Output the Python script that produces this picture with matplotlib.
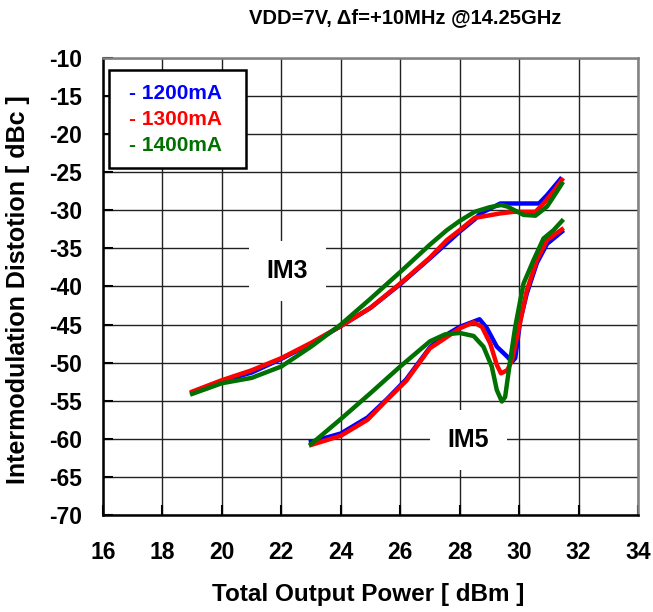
import matplotlib
matplotlib.use("Agg")
import matplotlib.pyplot as plt
from matplotlib.patches import Rectangle

plt.rcParams['font.family'] = ['Liberation Sans', 'DejaVu Sans']
plt.rcParams['font.weight'] = 'bold'
plt.rcParams['axes.unicode_minus'] = False

# ---- data ----
im3_1200_x = [19, 20, 21, 22, 23, 24, 25, 26, 27, 28, 28.5, 28.7, 29.37, 30.0, 30.67, 30.94, 31.39]
im3_1200_y = [-53.9, -52.4, -51.3, -49.5, -47.5, -45.2, -42.8, -39.7, -36.3, -32.8, -31.2, -30.4, -29.1, -29.1, -29.1, -28.0, -25.9]
im3_1300_x = [19, 20, 21, 22, 23, 24, 25, 26, 27, 27.57, 28, 28.5, 29.37, 29.8, 30.55, 30.82, 31.16, 31.44]
im3_1300_y = [-53.8, -52.3, -51.0, -49.4, -47.4, -45.2, -42.8, -39.6, -36.2, -33.9, -32.6, -31.0, -30.4, -30.2, -30.2, -29.1, -27.5, -26.0]
im3_1400_x = [19, 20, 21, 22, 23, 24, 25, 26, 27, 27.57, 28, 28.5, 29.0, 29.4, 29.6, 30.15, 30.55, 30.94, 31.16, 31.44]
im3_1400_y = [-54.1, -52.7, -52.0, -50.5, -47.9, -45.0, -41.6, -38.1, -34.5, -32.6, -31.4, -30.2, -29.6, -29.3, -29.5, -30.6, -30.7, -29.5, -28.2, -26.5]

im5_1200_x = [23.0, 24.0, 24.9, 25.55, 26.2, 27.0, 27.35, 28.0, 28.47, 28.67, 28.92, 29.25, 29.6, 29.76, 29.87, 30.04, 30.26, 30.6, 30.94, 31.44]
im5_1200_y = [-60.4, -59.3, -57.2, -54.8, -52.2, -48.0, -46.8, -45.3, -44.6, -44.3, -45.5, -47.9, -49.2, -49.9, -49.4, -44.4, -40.9, -36.9, -34.4, -32.8]
im5_1300_x = [23.0, 24.0, 24.9, 25.55, 26.2, 27.0, 27.35, 28.0, 28.47, 28.75, 29.03, 29.25, 29.39, 29.6, 29.76, 30.05, 30.26, 30.6, 30.94, 31.44]
im5_1300_y = [-60.8, -59.6, -57.5, -54.9, -52.4, -48.1, -47.2, -45.5, -44.7, -45.3, -47.5, -50.3, -51.4, -51.0, -49.7, -44.4, -40.5, -36.5, -33.9, -32.5]
im5_1400_x = [23.0, 24.0, 25.0, 26.0, 27.0, 27.5, 28.0, 28.47, 28.8, 29.08, 29.25, 29.42, 29.53, 29.7, 29.87, 30.04, 30.15, 30.49, 30.82, 31.16, 31.44]
im5_1400_y = [-60.7, -57.4, -54.0, -50.5, -47.2, -46.3, -46.1, -46.5, -47.9, -50.5, -53.6, -55.1, -54.5, -49.7, -45.3, -41.8, -39.6, -36.5, -33.7, -32.6, -31.4]

x_ticks = [16, 18, 20, 22, 24, 26, 28, 30, 32, 34]
y_ticks = [-10, -15, -20, -25, -30, -35, -40, -45, -50, -55, -60, -65, -70]
legend_labels = ['- 1200mA', '- 1300mA', '- 1400mA']
colors = ['#0000FF', '#FF0000', '#007000']

fig = plt.figure(figsize=(6.53, 6.12), dpi=100)
ax = fig.add_axes([103/653, 1 - 515/612, (638 - 103)/653, (515 - 58)/612])

lw = 3.2
ax.plot(im3_1200_x, im3_1200_y, color=colors[0], lw=lw, solid_joinstyle='round', zorder=3)
ax.plot(im3_1300_x, im3_1300_y, color=colors[1], lw=lw, solid_joinstyle='round', zorder=4)
ax.plot(im3_1400_x, im3_1400_y, color=colors[2], lw=lw, solid_joinstyle='round', zorder=5)
ax.plot(im5_1200_x, im5_1200_y, color=colors[0], lw=lw, solid_joinstyle='round', zorder=3)
ax.plot(im5_1300_x, im5_1300_y, color=colors[1], lw=lw, solid_joinstyle='round', zorder=4)
ax.plot(im5_1400_x, im5_1400_y, color=colors[2], lw=lw, solid_joinstyle='round', zorder=5)

ax.set_xlim(16, 34)
ax.set_ylim(-70, -10)
ax.set_xticks(x_ticks)
ax.set_yticks(y_ticks)
ax.grid(True, color='#222222', lw=1.0)
ax.set_axisbelow(True)
ax.tick_params(direction='in', length=7, width=1.5, labelsize=16.5)
ax.tick_params(axis='x', pad=19)
ax.tick_params(axis='y', pad=15)
for lab in ax.get_xticklabels() + ax.get_yticklabels():
    lab.set_fontweight('bold')
for s in ['left', 'bottom']:
    ax.spines[s].set_color('black')
    ax.spines[s].set_linewidth(1.8)
for s in ['top', 'right']:
    ax.spines[s].set_color('#808080')
    ax.spines[s].set_linewidth(1.8)

fig.text(368/653, 1 - 594/612, 'Total Output Power [ dBm ]', fontsize=17.5,
         fontweight='bold', ha='center', va='center')
fig.text(18/653, 1 - 290/612, 'Intermodulation Distotion [ dBc ]', fontsize=18,
         fontweight='bold', ha='center', va='center', rotation=90)
fig.text(405/653, 1 - 18/612, 'VDD=7V, \u0394f=+10MHz @14.25GHz', fontsize=14.5,
         fontweight='bold', ha='center', va='center')

ax.text(22.2, -38.0, 'IM3', fontsize=18, fontweight='bold', ha='center', va='center',
        bbox=dict(facecolor='white', edgecolor='none', pad=13), zorder=6)
ax.text(28.3, -60.2, 'IM5', fontsize=18, fontweight='bold', ha='center', va='center',
        bbox=dict(facecolor='white', edgecolor='none', pad=13), zorder=6)

# legend box
bx0, bx1 = 16 + (109 - 103) / 29.7, 16 + (246 - 103) / 29.7
by0, by1 = -10 - (168 - 58) / 7.617, -10 - (70 - 58) / 7.617
ax.add_patch(Rectangle((bx0, by0), bx1 - bx0, by1 - by0, facecolor='white',
                       edgecolor='black', lw=1.8, zorder=7))
ly = [-10 - (94 - 58) / 7.617, -10 - (120 - 58) / 7.617, -10 - (146 - 58) / 7.617]
for lbl, c, yy in zip(legend_labels, colors, ly):
    ax.text(16 + (129 - 103) / 29.7, yy, lbl, color=c, fontsize=15, fontweight='bold',
            ha='left', va='center', zorder=8)

fig.savefig('out.png', dpi=100)
